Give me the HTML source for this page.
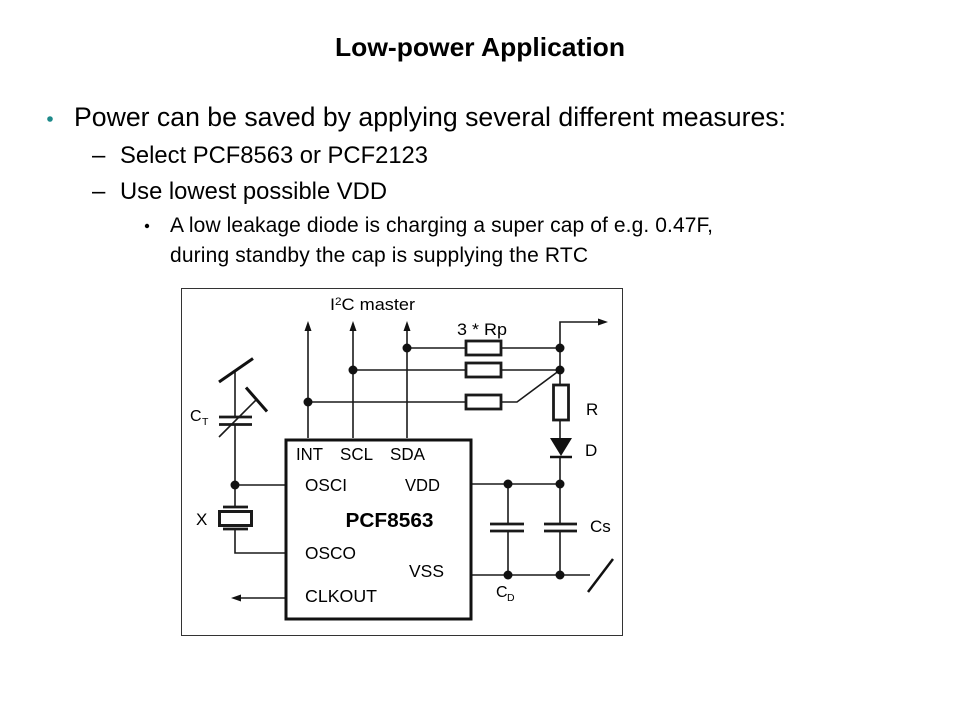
<!DOCTYPE html>
<html><head><meta charset="utf-8"><style>
html,body{margin:0;padding:0;background:#fff;}
svg{display:block;}
text{font-family:"Liberation Sans",Arial,sans-serif;fill:#000;}
</style></head><body>
<svg width="960" height="720" viewBox="0 0 960 720" xmlns="http://www.w3.org/2000/svg">
<rect width="960" height="720" fill="#fff"/>
<!-- Title -->
<text x="335" y="56" font-size="26" font-weight="bold" textLength="290" lengthAdjust="spacingAndGlyphs">Low-power Application</text>
<!-- bullets -->
<circle cx="50" cy="119" r="2.8" fill="#1e8a8a"/>
<text x="74" y="126" font-size="26.5" textLength="712" lengthAdjust="spacingAndGlyphs">Power can be saved by applying several different measures:</text>
<text x="92" y="163" font-size="24">–</text>
<text x="120" y="163" font-size="24" textLength="308" lengthAdjust="spacingAndGlyphs">Select PCF8563 or PCF2123</text>
<text x="92" y="199" font-size="24">–</text>
<text x="120" y="199" font-size="24" textLength="267" lengthAdjust="spacingAndGlyphs">Use lowest possible VDD</text>
<circle cx="147" cy="226" r="2.2" fill="#000"/>
<text x="170" y="232" font-size="21" textLength="543" lengthAdjust="spacing">A low leakage diode is charging a super cap of e.g. 0.47F,</text>
<text x="170" y="262" font-size="21" textLength="418" lengthAdjust="spacing">during standby the cap is supplying the RTC</text>

<!-- Diagram frame -->
<rect x="181.5" y="288.5" width="441" height="347" fill="none" stroke="#333" stroke-width="1"/>

<g stroke="#1a1a1a" stroke-width="1.6" fill="none">
  <!-- I2C lines up -->
  <line x1="308" y1="328" x2="308" y2="438"/>
  <line x1="353" y1="328" x2="353" y2="438"/>
  <line x1="407" y1="328" x2="407" y2="438"/>
  <!-- horizontal lines -->
  <line x1="407" y1="348" x2="465" y2="348"/>
  <line x1="501" y1="348" x2="560" y2="348"/>
  <line x1="353" y1="370" x2="465" y2="370"/>
  <line x1="501" y1="370" x2="560" y2="370"/>
  <line x1="308" y1="402" x2="465" y2="402"/>
  <polyline points="501,402 517,402 560,370"/>
  <!-- right column -->
  <polyline points="560,384 560,322 600,322"/>
  <line x1="560" y1="420" x2="560" y2="438"/>
  <line x1="560" y1="457" x2="560" y2="524"/>
  <line x1="560" y1="531" x2="560" y2="575"/>
  <!-- VDD / VSS -->
  <line x1="472" y1="484" x2="560" y2="484"/>
  <line x1="472" y1="575" x2="590" y2="575"/>
  <line x1="508" y1="484" x2="508" y2="524"/>
  <line x1="508" y1="531" x2="508" y2="575"/>
  <!-- trimmer cap CT -->
  <line x1="235" y1="371" x2="235" y2="417"/>
  <line x1="235" y1="424" x2="235" y2="507"/>
  <line x1="219" y1="437" x2="256" y2="400"/>
  <!-- OSCI -->
  <line x1="235" y1="485" x2="285" y2="485"/>
  <!-- crystal bottom to OSCO -->
  <polyline points="235,529 235,553 285,553"/>
  <!-- CLKOUT -->
  <line x1="238" y1="598" x2="285" y2="598"/>
</g>
<g stroke="#111" stroke-width="3" fill="none">
  <line x1="219" y1="382" x2="253" y2="358.5"/>
  <line x1="246" y1="387.5" x2="267" y2="411.5"/>
</g>
<line x1="588" y1="592" x2="613" y2="559" stroke="#111" stroke-width="2.5"/>
<!-- capacitor plates -->
<g stroke="#1a1a1a" stroke-width="2.8">
  <line x1="219" y1="417" x2="252" y2="417"/>
  <line x1="219" y1="424.5" x2="252" y2="424.5"/>
  <line x1="490" y1="524" x2="524" y2="524"/>
  <line x1="490" y1="531" x2="524" y2="531"/>
  <line x1="544" y1="524" x2="577" y2="524"/>
  <line x1="544" y1="531" x2="577" y2="531"/>
  <line x1="223" y1="507" x2="248" y2="507"/>
  <line x1="223" y1="529" x2="248" y2="529"/>
</g>
<!-- crystal box -->
<rect x="219.5" y="511.5" width="32" height="14" fill="#fff" stroke="#1a1a1a" stroke-width="3"/>
<!-- resistors -->
<g fill="#fff" stroke="#1a1a1a" stroke-width="2.8">
  <rect x="466" y="341" width="35" height="14"/>
  <rect x="466" y="363" width="35" height="14"/>
  <rect x="466" y="395" width="35" height="14"/>
  <rect x="553.5" y="385" width="15" height="35"/>
</g>
<!-- diode -->
<polygon points="550,438 572,438 561,456" fill="#111"/>
<line x1="550" y1="457" x2="572" y2="457" stroke="#111" stroke-width="2.5"/>
<!-- arrowheads -->
<g fill="#111">
  <polygon points="308,321 304.5,331 311.5,331"/>
  <polygon points="353,321 349.5,331 356.5,331"/>
  <polygon points="407,321 403.5,331 410.5,331"/>
  <polygon points="608,322 598,318.5 598,325.5"/>
  <polygon points="231,598 241,594.5 241,601.5"/>
</g>
<!-- dots -->
<g fill="#111">
  <circle cx="407" cy="348" r="4.5"/>
  <circle cx="353" cy="370" r="4.5"/>
  <circle cx="308" cy="402" r="4.5"/>
  <circle cx="560" cy="348" r="4.5"/>
  <circle cx="560" cy="370" r="4.5"/>
  <circle cx="235" cy="485" r="4.5"/>
  <circle cx="508" cy="484" r="4.5"/>
  <circle cx="560" cy="484" r="4.5"/>
  <circle cx="508" cy="575" r="4.5"/>
  <circle cx="560" cy="575" r="4.5"/>
</g>
<!-- chip -->
<rect x="286" y="440" width="185" height="179" fill="#fff" stroke="#111" stroke-width="3"/>

<!-- diagram labels -->
<g font-size="17">
  <text x="330" y="310" textLength="85" lengthAdjust="spacingAndGlyphs">I<tspan font-size="11" dy="-5">2</tspan><tspan dy="5">C master</tspan></text>
  <text x="457" y="335" textLength="50" lengthAdjust="spacingAndGlyphs">3 * Rp</text>
  <text x="586" y="415">R</text>
  <text x="585" y="456">D</text>
  <text x="190" y="421" font-size="16">C</text><text x="202" y="425" font-size="10.5">T</text>
  <text x="196" y="525">X</text>
  <text x="590" y="532">Cs</text>
  <text x="496" y="597" font-size="16">C</text><text x="507" y="601" font-size="10.5">D</text>
</g>
<g font-size="17.5">
  <text x="296" y="460" textLength="27" lengthAdjust="spacingAndGlyphs">INT</text>
  <text x="340" y="460" textLength="33" lengthAdjust="spacingAndGlyphs">SCL</text>
  <text x="390" y="460" textLength="35" lengthAdjust="spacingAndGlyphs">SDA</text>
  <text x="305" y="491" textLength="42" lengthAdjust="spacingAndGlyphs">OSCI</text>
  <text x="405" y="491" textLength="35" lengthAdjust="spacingAndGlyphs">VDD</text>
  <text x="345.5" y="527" font-size="20.5" font-weight="bold" textLength="88" lengthAdjust="spacingAndGlyphs">PCF8563</text>
  <text x="305" y="559" textLength="51" lengthAdjust="spacingAndGlyphs">OSCO</text>
  <text x="409" y="577" textLength="35" lengthAdjust="spacingAndGlyphs">VSS</text>
  <text x="305" y="602" textLength="72" lengthAdjust="spacingAndGlyphs">CLKOUT</text>
</g>
</svg>
</body></html>
